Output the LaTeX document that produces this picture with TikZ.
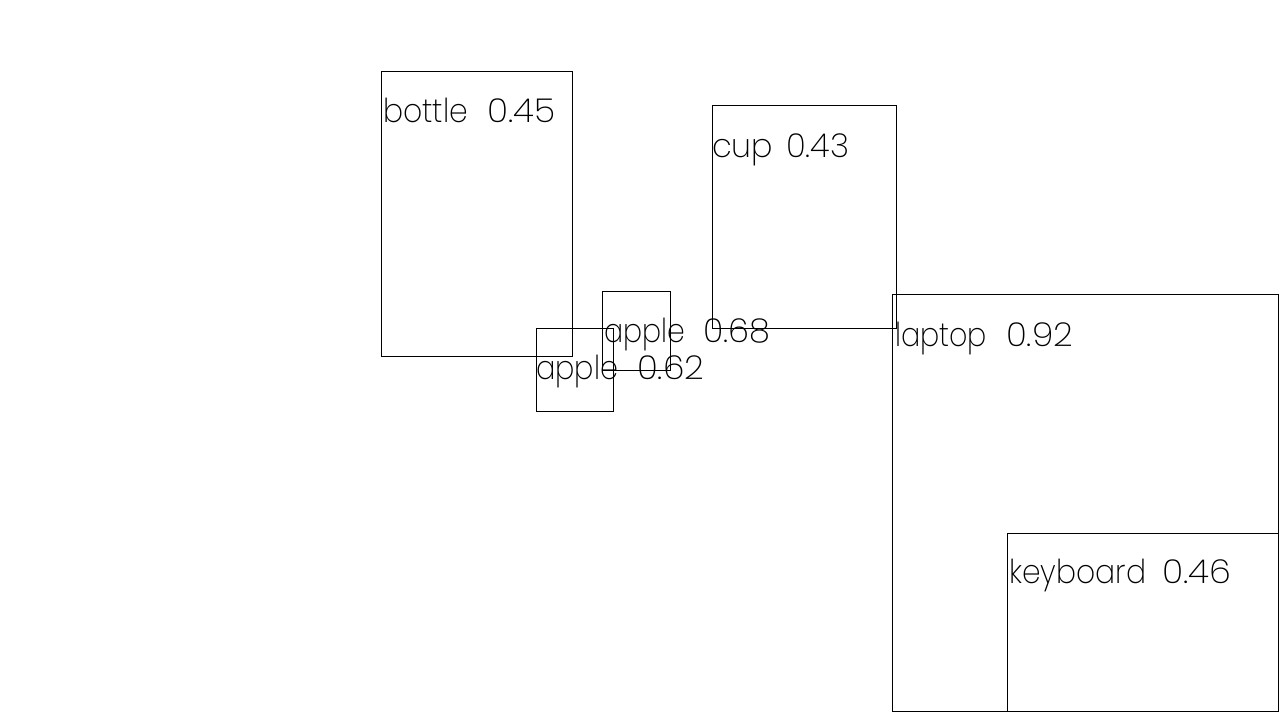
\documentclass[tikz,border=0pt]{standalone}
\usepackage{fontspec}
\usepackage{graphicx}
\newfontfamily\lab{Poppins ExtraLight}
\begin{document}
\begin{tikzpicture}[x=1pt,y=-1pt,
  box/.style={draw=black, line width=1pt},
  lbl/.style={anchor=base west, inner sep=0pt, font=\lab\fontsize{33}{33}\selectfont}]
\useasboundingbox[fill=white] (0,0) rectangle (1280,720);
% boxes
\draw[box] (381.5,71.5) rectangle (572.5,356.5);
\draw[box] (712.5,105.5) rectangle (896.5,328.5);
\draw[box] (602.5,291.5) rectangle (670.5,370.5);
\draw[box] (536.5,328.5) rectangle (613.5,411.5);
\draw[box] (892.5,294.5) rectangle (1278.5,711.5);
\draw[box] (1007.5,533.5) rectangle (1278.5,711.5);
% labels: word and score placed separately
\node[lbl] (bottleW) at (383,122) {\resizebox{85pt}{\height}{bottle}};
\node[lbl] (bottleN) at (487,122) {\resizebox{68pt}{\height}{0.45}};
\node[lbl] (cupW) at (712,157) {\resizebox{61pt}{\height}{cup}};
\node[lbl] (cupN) at (786,157) {\resizebox{63pt}{\height}{0.43}};
\node[lbl] (apple1W) at (604,342) {\resizebox{81pt}{\height}{apple}};
\node[lbl] (apple1N) at (703,342) {\resizebox{67pt}{\height}{0.68}};
\node[lbl] (apple2W) at (536,379) {\resizebox{82pt}{\height}{apple}};
\node[lbl] (apple2N) at (637,379) {\resizebox{67pt}{\height}{0.62}};
\node[lbl] (laptopW) at (895,346) {\resizebox{92pt}{\height}{laptop}};
\node[lbl] (laptopN) at (1006,346) {\resizebox{67pt}{\height}{0.92}};
\node[lbl] (keyboardW) at (1009,583) {\resizebox{137pt}{\height}{keyboard}};
\node[lbl] (keyboardN) at (1162,583) {\resizebox{69pt}{\height}{0.46}};
\end{tikzpicture}
\end{document}
